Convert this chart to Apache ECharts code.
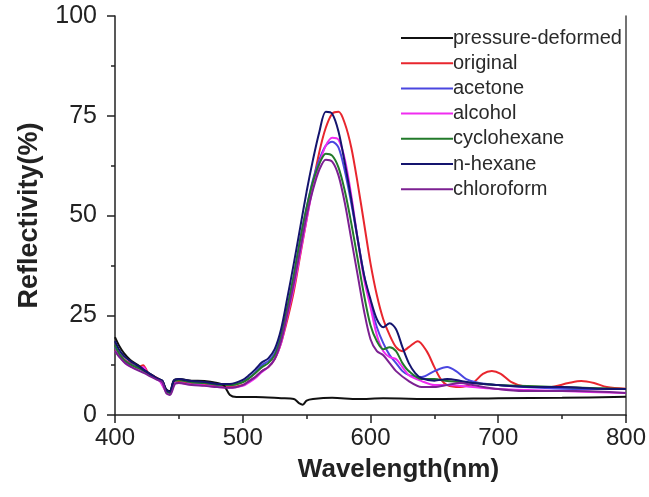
<!DOCTYPE html>
<html><head><meta charset="utf-8">
<script src="https://cdn.jsdelivr.net/npm/echarts@6/dist/echarts.min.js"></script>
<style>html,body{margin:0;padding:0;background:#fff}#c{width:649px;height:497px}</style>
</head><body><div id="c"></div>
<script>
const seriesNames = ['pressure-deformed','original','acetone','alcohol','cyclohexane','n-hexane','chloroform'];
const seriesColors = ['#111111','#e8262e','#4a46e0','#f02cf0','#227a2a','#14146e','#7c2092'];

const pressureDeformed = [[400,19.5],[403,17.5],[407,15.5],[412,13.8],[418,12.5],[423,11.2],[428,10.2],[433,9.2],[437,8.6],[440,6.5],[443,6],[446,8.6],[450,9],[460,8.6],[470,8.5],[480,8],[485,7.5],[490,5],[495,4.5],[510,4.5],[530,4.2],[540,4],[544,3],[547,2.6],[550,3.6],[555,4],[570,4.3],[590,4],[610,4.2],[650,4],[700,4.2],[750,4.3],[800,4.6]];
const original = [[400,16.5],[403,15.5],[407,14],[412,13],[418,12],[422,12.5],[426,10.5],[430,9.8],[435,8.8],[440,6],[443,5.5],[447,8.2],[450,8.3],[460,7.8],[470,7.6],[480,7.2],[490,7],[500,7.5],[505,8.5],[510,9.5],[515,11],[520,12],[525,14],[530,18],[535,24],[540,31],[545,40],[550,49],[555,58],[560,66],[565,72],[570,75.5],[575,76],[580,73],[585,67],[590,58],[595,48],[600,38],[605,30],[610,24],[615,20],[620,17],[625,16],[630,17],[637,18.5],[644,16],[650,12],[655,9],[660,7.5],[670,7],[680,8],[688,10.3],[695,11],[702,10.3],[710,8.3],[720,7.2],[740,7],[755,8],[765,8.5],[775,8],[785,7],[800,6.6]];
const acetone = [[400,17],[404,15],[408,13.5],[413,12.6],[418,11.8],[423,11],[428,10],[433,9],[437,8.5],[440,6],[443,5.5],[446,8.5],[450,8.8],[460,8.2],[470,8],[480,7.6],[490,7.5],[500,8.3],[505,9.3],[510,10.8],[515,12.5],[520,13.5],[525,15.5],[530,20],[535,27],[540,35],[545,44],[550,52],[555,59],[560,64],[565,67.5],[570,68.5],[575,67],[580,61],[585,53],[590,44],[595,35],[600,28],[605,22],[610,18],[615,15],[620,13],[625,11],[630,10],[640,9.5],[650,11],[660,12],[667,11],[675,9],[685,8],[700,7.5],[720,7],[750,6.6],[800,6.5]];
const alcohol = [[400,16],[404,14.5],[408,13],[413,12],[418,11.5],[422,12],[426,10.3],[430,9.5],[435,8.5],[440,5.8],[443,5.2],[447,8],[450,8],[460,7.6],[470,7.4],[480,7],[490,6.8],[500,7.3],[505,8.2],[510,9.3],[515,10.8],[520,12],[525,14],[530,18],[535,25],[540,32],[545,40.5],[550,49],[555,57],[560,63],[565,67.5],[570,69.5],[575,69],[580,64],[585,55],[590,44],[595,34],[600,27],[605,20],[610,16],[615,14.5],[620,14],[625,12],[630,10],[640,8.5],[650,7.5],[660,7.5],[680,7],[700,6.5],[750,6],[800,5.5]];
const cyclohexane = [[400,17.5],[404,15],[408,13.5],[413,12.5],[418,11.8],[423,11],[428,10],[433,9],[437,8.5],[440,6],[443,5.5],[446,8.5],[450,8.7],[460,8.2],[470,8],[480,7.6],[490,7.5],[500,8.2],[505,9.2],[510,10.5],[515,12],[520,13],[525,15],[530,19.5],[535,27],[540,35],[545,44],[550,52],[555,58.5],[560,63],[565,65.5],[570,65],[575,62],[580,56],[585,48],[590,39],[595,30],[600,22.5],[605,18.5],[610,16.5],[615,17],[620,16],[625,13],[630,11],[640,9],[650,9],[660,8.5],[680,8],[700,7.5],[750,7],[800,6.5]];
const nHexane = [[400,18.5],[403,16.5],[407,14.8],[412,13.5],[418,12.3],[423,11.2],[428,10.2],[433,9.2],[437,8.6],[440,6.3],[443,5.8],[446,8.6],[450,9],[460,8.5],[470,8.3],[480,7.8],[490,7.8],[500,8.8],[505,10],[510,11.5],[515,13.2],[520,14.2],[525,16.5],[530,21.5],[535,29.5],[540,38],[545,47],[550,56],[555,64],[560,71],[565,76],[570,75.5],[575,71],[580,63],[585,54],[590,44],[595,35],[600,29],[605,24],[610,22],[615,23],[620,21.5],[625,17],[630,13],[635,10.5],[640,9.2],[650,8.6],[660,9],[670,8.6],[680,8],[700,7.5],[720,7.1],[750,7],[780,6.6],[800,6.5]];
const chloroform = [[400,16],[404,14.3],[408,13],[413,12],[418,11.2],[423,10.5],[428,9.6],[433,8.8],[437,8.2],[440,5.5],[443,5],[447,7.8],[450,8],[460,7.5],[470,7.3],[480,7],[490,6.8],[500,7.5],[505,8.5],[510,9.6],[515,11],[520,12],[525,14],[530,18.5],[535,25.5],[540,33],[545,41.5],[550,50],[555,56.5],[560,61.5],[565,64],[570,63.5],[575,60],[580,53],[585,44],[590,35],[595,26],[600,19],[605,16],[610,15],[615,13],[620,11],[630,8.5],[640,7],[650,7],[660,7.5],[670,8],[680,7.5],[700,6.5],[720,6],[760,6],[800,5.5]];

const allData = [pressureDeformed, original, acetone, alcohol, cyclohexane, nHexane, chloroform];
const xTicks = {min:400, max:800, interval:100};
const yTicks = {min:0, max:100, interval:25};

const font = 'Liberation Sans, Arial, sans-serif';
const chart = echarts.init(document.getElementById('c'), null, {renderer:'canvas'});
chart.setOption({
  animation:false,
  backgroundColor:'#ffffff',
  grid:{left:115, right:23, top:16, bottom:82},
  legend:{
    data:seriesNames, orient:'vertical', left:396, top:23,
    itemWidth:52, itemHeight:14, itemGap:5.2, icon:'path://M0,0 L52,0 L52,2 L0,2 Z',
    textStyle:{fontFamily:font, fontSize:20, lineHeight:19, color:'#2a2a2a', padding:[0,0,0,-5]}
  },
  xAxis:{
    type:'value', min:xTicks.min, max:xTicks.max, interval:xTicks.interval,
    name:'Wavelength(nm)', nameLocation:'middle', nameGap:42,
    nameTextStyle:{fontFamily:font, fontSize:26, fontWeight:'bold', color:'#222', padding:[0,0,0,56]},
    axisLine:{show:true, lineStyle:{color:'#222', width:1.5}},
    axisTick:{show:true, inside:false, length:8, lineStyle:{color:'#222', width:1.5}},
    minorTick:{show:true, splitNumber:2, length:4, lineStyle:{color:'#222', width:1.5}},
    axisLabel:{fontFamily:font, fontSize:24, color:'#222', margin:11},
    splitLine:{show:false}
  },
  yAxis:[{
    type:'value', min:yTicks.min, max:yTicks.max, interval:yTicks.interval,
    name:'Reflectivity(%)', nameLocation:'middle', nameGap:72,
    nameTextStyle:{fontFamily:font, fontSize:27, fontWeight:'bold', color:'#222'},
    axisLine:{show:true, lineStyle:{color:'#222', width:1.5}},
    axisTick:{show:true, inside:false, length:8, lineStyle:{color:'#222', width:1.5}},
    minorTick:{show:true, splitNumber:2, length:4, lineStyle:{color:'#222', width:1.5}},
    axisLabel:{fontFamily:font, fontSize:25, color:'#222', margin:18},
    splitLine:{show:false}
  },{
    type:'value', position:'right', min:yTicks.min, max:yTicks.max,
    axisLine:{show:true, onZero:false, lineStyle:{color:'#444', width:1.5}},
    axisTick:{show:false}, axisLabel:{show:false}, splitLine:{show:false}
  }],
  series: seriesNames.map((n,i)=>({
    name:n, type:'line', data:allData[i], symbol:'none', smooth:0.3,
    z: i===0 ? 10 : 5 + i,
    lineStyle:{color:seriesColors[i], width:2}, itemStyle:{color:seriesColors[i]}
  }))
});
</script></body></html>
